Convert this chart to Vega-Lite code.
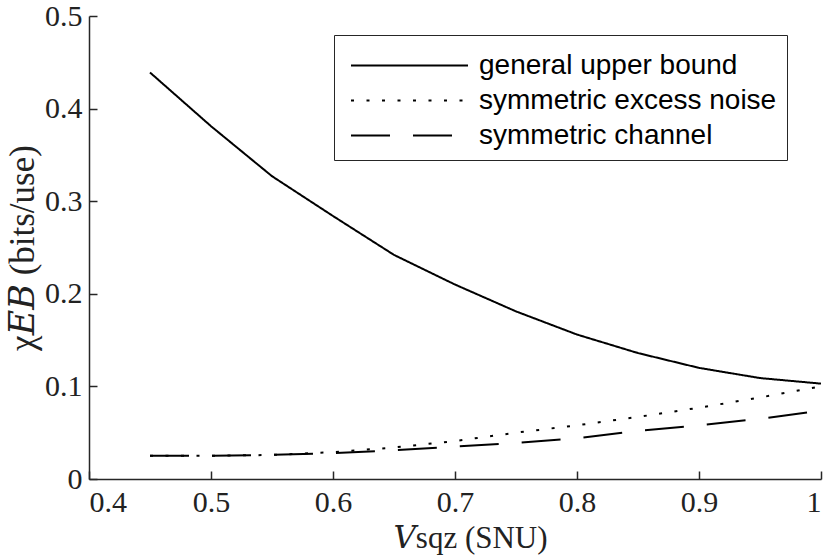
{
  "$schema": "https://vega.github.io/schema/vega-lite/v6.json",
  "width": 732,
  "height": 463,
  "autosize": "none",
  "padding": {"left": 89, "top": 16, "right": 9, "bottom": 79},
  "background": "white",
  "data": {
    "values": [
      {"V": 0.45, "chi": 0.439, "series": "general upper bound"},
      {"V": 0.50, "chi": 0.381, "series": "general upper bound"},
      {"V": 0.55, "chi": 0.327, "series": "general upper bound"},
      {"V": 0.60, "chi": 0.284, "series": "general upper bound"},
      {"V": 0.65, "chi": 0.242, "series": "general upper bound"},
      {"V": 0.70, "chi": 0.210, "series": "general upper bound"},
      {"V": 0.75, "chi": 0.181, "series": "general upper bound"},
      {"V": 0.80, "chi": 0.156, "series": "general upper bound"},
      {"V": 0.85, "chi": 0.136, "series": "general upper bound"},
      {"V": 0.90, "chi": 0.120, "series": "general upper bound"},
      {"V": 0.95, "chi": 0.109, "series": "general upper bound"},
      {"V": 1.00, "chi": 0.103, "series": "general upper bound"},
      {"V": 0.45, "chi": 0.025, "series": "symmetric excess noise"},
      {"V": 0.50, "chi": 0.025, "series": "symmetric excess noise"},
      {"V": 0.55, "chi": 0.026, "series": "symmetric excess noise"},
      {"V": 0.60, "chi": 0.029, "series": "symmetric excess noise"},
      {"V": 0.65, "chi": 0.034, "series": "symmetric excess noise"},
      {"V": 0.70, "chi": 0.041, "series": "symmetric excess noise"},
      {"V": 0.75, "chi": 0.050, "series": "symmetric excess noise"},
      {"V": 0.80, "chi": 0.058, "series": "symmetric excess noise"},
      {"V": 0.85, "chi": 0.067, "series": "symmetric excess noise"},
      {"V": 0.90, "chi": 0.077, "series": "symmetric excess noise"},
      {"V": 0.95, "chi": 0.088, "series": "symmetric excess noise"},
      {"V": 1.00, "chi": 0.100, "series": "symmetric excess noise"},
      {"V": 0.45, "chi": 0.025, "series": "symmetric channel"},
      {"V": 0.50, "chi": 0.025, "series": "symmetric channel"},
      {"V": 0.55, "chi": 0.026, "series": "symmetric channel"},
      {"V": 0.60, "chi": 0.028, "series": "symmetric channel"},
      {"V": 0.65, "chi": 0.031, "series": "symmetric channel"},
      {"V": 0.70, "chi": 0.035, "series": "symmetric channel"},
      {"V": 0.75, "chi": 0.039, "series": "symmetric channel"},
      {"V": 0.80, "chi": 0.044, "series": "symmetric channel"},
      {"V": 0.85, "chi": 0.052, "series": "symmetric channel"},
      {"V": 0.90, "chi": 0.058, "series": "symmetric channel"},
      {"V": 0.95, "chi": 0.065, "series": "symmetric channel"},
      {"V": 1.00, "chi": 0.074, "series": "symmetric channel"}
    ]
  },
  "mark": {"type": "line", "color": "black", "strokeWidth": 2},
  "encoding": {
    "x": {
      "field": "V",
      "type": "quantitative",
      "scale": {"domain": [0.4, 1], "nice": false},
      "axis": {
        "values": [0.4, 0.5, 0.6, 0.7, 0.8, 0.9, 1],
        "format": "~g",
        "title": "𝑉sqz (SNU)",
        "titleFontSize": 31,
        "titleX": 381,
        "labelPadding": 16,
        "titlePadding": 6
      }
    },
    "y": {
      "field": "chi",
      "type": "quantitative",
      "scale": {"domain": [0, 0.5], "nice": false},
      "axis": {
        "values": [0, 0.1, 0.2, 0.3, 0.4, 0.5],
        "format": "~g",
        "title": "χ𝐸𝐵 (bits/use)",
        "titleFontSize": 35,
        "labelPadding": 15,
        "titlePadding": 4
      }
    },
    "strokeDash": {
      "field": "series",
      "type": "nominal",
      "scale": {
        "domain": ["general upper bound", "symmetric excess noise", "symmetric channel"],
        "range": [[1, 0], [3, 12.5], [39, 23]]
      },
      "legend": {
        "title": null,
        "orient": "none",
        "legendX": 245,
        "legendY": 19,
        "symbolType": "M-3,0H3",
        "symbolSize": 1521,
        "symbolOffset": 45,
        "symbolStrokeWidth": 2,
        "symbolStrokeColor": "black",
        "symbolFillColor": "transparent",
        "labelFont": "Liberation Sans",
        "labelFontSize": 28,
        "labelColor": "black",
        "labelOffset": 49,
        "labelExpr": "datum.label + '  '",
        "rowPadding": -1,
        "padding": 10,
        "strokeColor": "#262626",
        "fillColor": "white",
        "labelLimit": 400
      }
    }
  },
  "config": {
    "view": {"stroke": null},
    "axis": {
      "grid": false,
      "domainColor": "#262626",
      "domainWidth": 1.5,
      "tickColor": "#262626",
      "tickWidth": 1.5,
      "tickSize": -8,
      "labelFont": "Liberation Serif, DejaVu Serif",
      "labelFontSize": 30,
      "labelColor": "#222222",
      "titleFont": "Liberation Serif, DejaVu Serif",
      "titleFontWeight": "normal",
      "titleColor": "#222222"
    }
  }
}
